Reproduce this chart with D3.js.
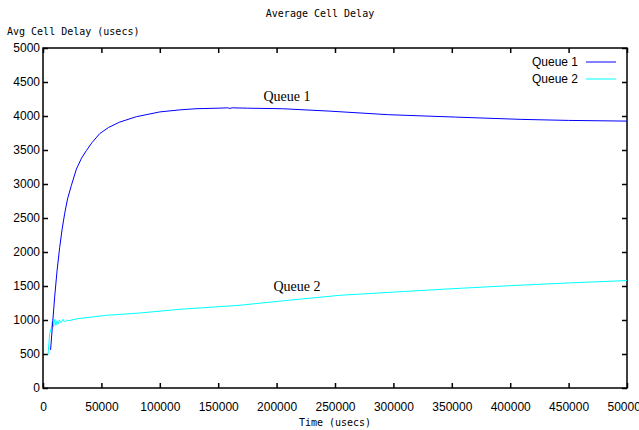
<!doctype html>
<html>
<head>
  <style>
    body { margin:0; background:#fff; }
    .tick text { font:12px "Liberation Sans", Arial, sans-serif; fill:#000; }
    .mono { font:10px "DejaVu Sans Mono", monospace; }
  </style>
  <script src="https://d3js.org/d3.v7.min.js"></script>
</head>
<body>
<script>
  // Queue 1 (blue)
  var q1Time  = [6500, 8000, 10000, 12000, 14300, 16500, 18600, 21000, 24300, 28600, 33000, 37100,
                 42000, 48500, 56000, 65600, 80000, 100000, 117000, 131000, 150000, 158000, 160000,
                 162000, 175000, 205000, 245000, 296000, 353000, 410000, 450000, 500000];
  var q1Delay = [560, 900, 1340, 1720, 2070, 2350, 2570, 2780, 2980, 3220, 3380, 3490,
                 3610, 3740, 3830, 3910, 3990, 4060, 4090, 4107, 4115, 4120, 4112,
                 4120, 4115, 4107, 4072, 4019, 3984, 3950, 3935, 3925];
  // Queue 2 (cyan)
  var q2Time  = [4300, 5700, 7000, 8000, 9000, 10000, 11000, 12000, 13000, 14000, 15500, 17000,
                 18500, 20000, 22000, 25700, 30000, 40000, 54300, 82800, 117000, 168000, 210000,
                 254000, 300000, 350000, 400000, 450000, 500000];
  var q2Delay = [490, 800, 870, 980, 900, 1010, 920, 990, 940, 1000, 960, 1010,
                 970, 1000, 990, 1005, 1020, 1040, 1069, 1103, 1157, 1216, 1290,
                 1363, 1410, 1460, 1505, 1545, 1580];
  var xTicks = d3.range(0, 500001, 50000);
  var yTicks = d3.range(0, 5001, 500);

  var W = 639, H = 430;
  var L = 43, R = 627, T = 48, B = 388;

  var svg = d3.select("body").append("svg").attr("width", W).attr("height", H);

  var x = d3.scaleLinear().domain([0, 500000]).range([L, R]);
  var y = d3.scaleLinear().domain([0, 5000]).range([B, T]);

  function styleAxis(g) {
    g.select(".domain").remove();
    g.selectAll(".tick line").attr("stroke", "#000").attr("stroke-width", 1.5);
  }

  svg.append("g").attr("transform", "translate(0," + B + ")")
    .call(d3.axisBottom(x).tickValues(xTicks).tickSize(-5).tickPadding(14).tickFormat(d3.format("d")))
    .call(styleAxis);
  svg.append("g").attr("transform", "translate(0," + T + ")")
    .call(d3.axisTop(x).tickValues(xTicks).tickSize(-5).tickFormat(""))
    .call(styleAxis);
  svg.append("g").attr("transform", "translate(" + L + ",0)")
    .call(d3.axisLeft(y).tickValues(yTicks).tickSize(-5).tickPadding(3).tickFormat(d3.format("d")))
    .call(styleAxis);
  svg.append("g").attr("transform", "translate(" + R + ",0)")
    .call(d3.axisRight(y).tickValues(yTicks).tickSize(-5).tickFormat(""))
    .call(styleAxis);

  svg.append("rect").attr("x", L).attr("y", T).attr("width", R - L).attr("height", B - T)
    .attr("fill", "none").attr("stroke", "#000").attr("stroke-width", 1.5);

  var line = d3.line().x(function(d) { return x(d[0]); }).y(function(d) { return y(d[1]); });
  var q1 = d3.zip(q1Time, q1Delay), q2 = d3.zip(q2Time, q2Delay);

  svg.append("path").datum(q2).attr("d", line).attr("fill", "none")
    .attr("stroke", "#00ffff").attr("stroke-width", 1);
  svg.append("path").datum(q1).attr("d", line).attr("fill", "none")
    .attr("stroke", "#0000ff").attr("stroke-width", 1);

  // legend
  var legend = [["Queue 1", "#0000ff"], ["Queue 2", "#00ffff"]];
  legend.forEach(function(d, i) {
    var ly = 62 + i * 17;
    svg.append("text").attr("x", 578).attr("y", ly + 4).attr("text-anchor", "end")
      .style("font", "12px 'Liberation Sans', Arial, sans-serif").text(d[0]);
    svg.append("line").attr("x1", 586).attr("x2", 616).attr("y1", ly).attr("y2", ly)
      .attr("stroke", d[1]).attr("stroke-width", 1);
  });

  // curve labels
  svg.append("text").attr("x", 287).attr("y", 101).attr("text-anchor", "middle")
    .style("font", "14px 'Liberation Serif', 'Times New Roman', serif").text("Queue 1");
  svg.append("text").attr("x", 297).attr("y", 291).attr("text-anchor", "middle")
    .style("font", "14px 'Liberation Serif', 'Times New Roman', serif").text("Queue 2");

  // titles
  svg.append("text").attr("class", "mono").attr("x", 320).attr("y", 17)
    .attr("text-anchor", "middle").text("Average Cell Delay");
  svg.append("text").attr("class", "mono").attr("x", 7).attr("y", 35)
    .text("Avg Cell Delay (usecs)");
  svg.append("text").attr("class", "mono").attr("x", 335).attr("y", 426)
    .attr("text-anchor", "middle").text("Time (usecs)");
</script>
</body>
</html>
